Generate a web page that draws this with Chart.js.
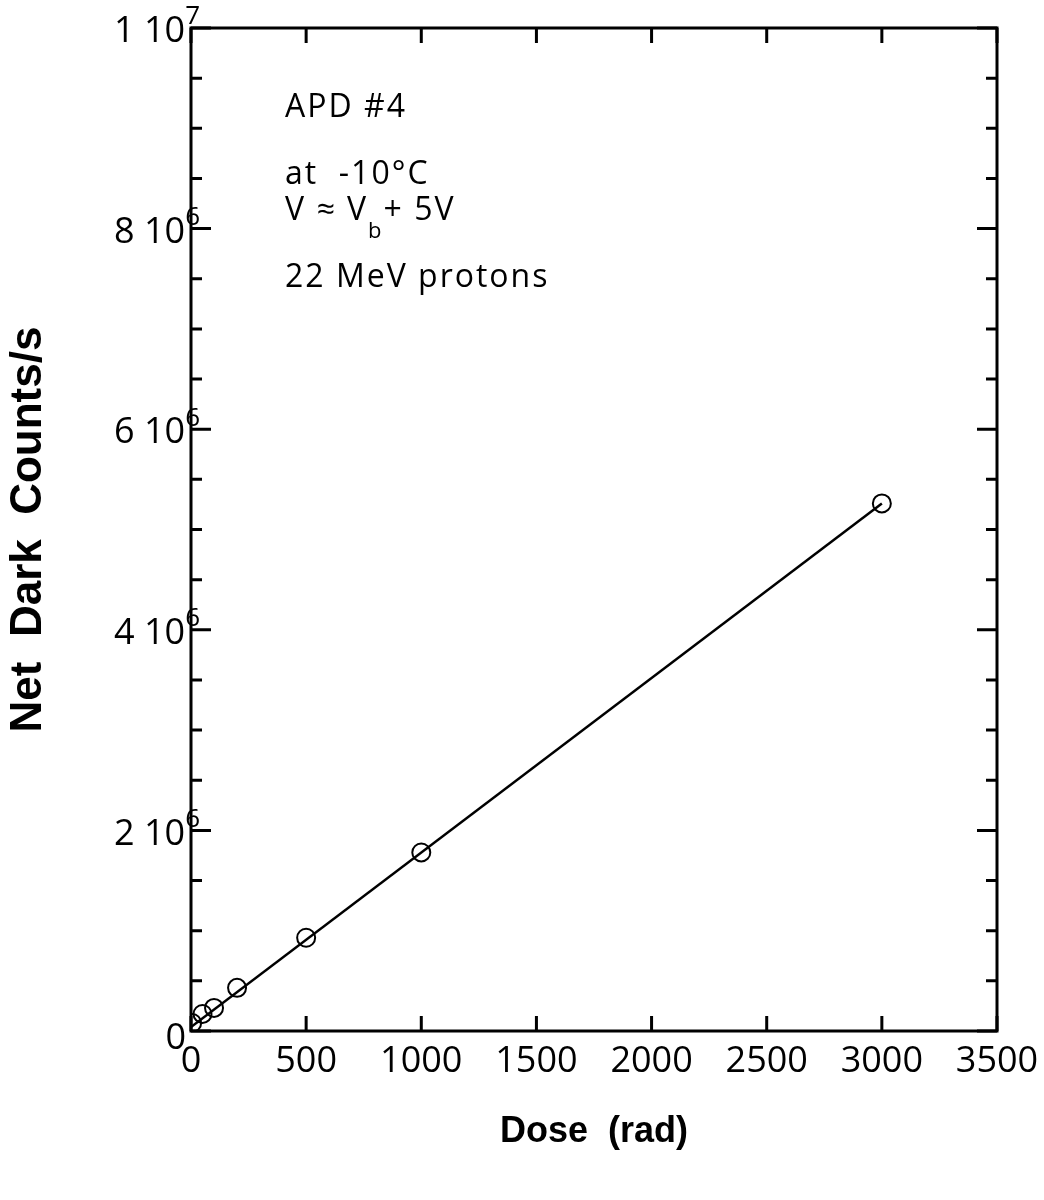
<!DOCTYPE html>
<html>
<head>
<meta charset="utf-8">
<script src="https://cdn.jsdelivr.net/npm/chart.js@4.4.1/dist/chart.umd.min.js"></script>
<style>
  body { margin: 0; background: #fff; }
  #wrap { width: 1044px; height: 1200px; position: relative; }
</style>
</head>
<body>
<div id="wrap"><canvas id="chart"></canvas></div>
<script>
// measured points
const doseRad = [5, 50, 100, 200, 500, 1000, 3000];
const darkCounts = [80000, 170000, 230000, 430000, 930000, 1780000, 5260000];
// straight fit line drawn through them
const fitDose = [0, 3000];
const fitCounts = [40000, 5260000];
// y tick labels (major ticks only), written as mantissa + power of ten
const yLabelValues = [0, 2000000, 4000000, 6000000, 8000000, 10000000];
const yLabelMant = ['0', '2 10', '4 10', '6 10', '8 10', '1 10'];
const yLabelExp = ['', '6', '6', '6', '6', '7'];
const xTickStep = 500;
const yMinorStep = 500000;
const yMajorStep = 2000000;

const tickFont = 'Open Sans';
const titleFont = 'Liberation Sans';

const points = doseRad.map((d, i) => ({ x: d, y: darkCounts[i] }));
const fitLine = fitDose.map((d, i) => ({ x: d, y: fitCounts[i] }));

// frame + inward ticks on all four sides
const frameTicks = {
    id: 'frameTicks',
    afterDatasetsDraw(chart) {
        const { ctx, chartArea: a, scales: { x, y } } = chart;
        ctx.save();
        ctx.strokeStyle = '#000';
        ctx.lineWidth = 3;
        ctx.strokeRect(a.left, a.top, a.right - a.left, a.bottom - a.top);
        ctx.beginPath();
        y.ticks.forEach(t => {
            const py = y.getPixelForValue(t.value);
            const len = (Math.round(t.value) % yMajorStep === 0) ? 20 : 11;
            ctx.moveTo(a.left, py); ctx.lineTo(a.left + len, py);
            ctx.moveTo(a.right, py); ctx.lineTo(a.right - len, py);
        });
        x.ticks.forEach(t => {
            const px = x.getPixelForValue(t.value);
            ctx.moveTo(px, a.bottom); ctx.lineTo(px, a.bottom - 15);
            ctx.moveTo(px, a.top); ctx.lineTo(px, a.top + 15);
        });
        ctx.stroke();
        ctx.restore();
    }
};

// y labels like "8 10^6" with a raised exponent
const yLabels = {
    id: 'yLabels',
    afterDraw(chart) {
        const { ctx, chartArea: a, scales: { y } } = chart;
        ctx.save();
        ctx.fillStyle = '#000';
        ctx.textBaseline = 'middle';
        ctx.textAlign = 'right';
        yLabelValues.forEach((v, i) => {
            const py = y.getPixelForValue(v);
            if (!yLabelExp[i]) {
                ctx.font = '36px "' + tickFont + '"';
                ctx.fillText(yLabelMant[i], a.left - 5, py + 8);
                return;
            }
            ctx.font = '26px "' + tickFont + '"';
            const ex = a.left + 9;
            ctx.fillText(yLabelExp[i], ex, py - 11);
            const ew = ctx.measureText(yLabelExp[i]).width;
            ctx.font = '36px "' + tickFont + '"';
            ctx.fillText(yLabelMant[i], ex - ew, py + 4);
        });
        ctx.restore();
    }
};

// text block inside the plot
const notes = {
    id: 'notes',
    afterDraw(chart) {
        const { ctx, chartArea: a } = chart;
        const x0 = a.left + 94;
        ctx.save();
        ctx.fillStyle = '#000';
        ctx.textBaseline = 'alphabetic';
        ctx.letterSpacing = '2px';
        ctx.font = '32px "Open Sans"';
        ctx.fillText('APD #4', x0, a.top + 89);
        ctx.fillText('at  -10\u00B0C', x0, a.top + 156);
        let t = 'V \u2248 V';
        ctx.fillText(t, x0, a.top + 192);
        let w = ctx.measureText(t).width;
        ctx.font = '22px "Open Sans"';
        ctx.fillText('b', x0 + w, a.top + 210);
        w += ctx.measureText('b').width;
        ctx.font = '32px "Open Sans"';
        ctx.fillText('+ 5V', x0 + w, a.top + 192);
        ctx.fillText('22 MeV protons', x0, a.top + 259);
        ctx.restore();
    }
};

new Chart(document.getElementById('chart'), {
    type: 'scatter',
    data: {
        datasets: [
            {
                data: fitLine,
                showLine: true,
                borderColor: '#000',
                borderWidth: 2.5,
                pointRadius: 0,
                fill: false
            },
            {
                data: points,
                showLine: false,
                pointStyle: 'circle',
                pointRadius: 9,
                pointBorderWidth: 2,
                pointBorderColor: '#000',
                pointBackgroundColor: 'rgba(0,0,0,0)'
            }
        ]
    },
    options: {
        responsive: true,
        maintainAspectRatio: false,
        animation: false,
        layout: { padding: { top: 28, right: 47, left: 0, bottom: 0 } },
        plugins: { legend: { display: false }, tooltip: { enabled: false } },
        scales: {
            x: {
                type: 'linear',
                min: 0,
                max: 3500,
                grid: { display: false, drawTicks: false },
                border: { display: false },
                ticks: {
                    stepSize: xTickStep,
                    autoSkip: false,
                    maxRotation: 0,
                    padding: 9,
                    color: '#000',
                    font: { family: tickFont, size: 36 },
                    callback: v => String(v)
                },
                title: {
                    display: true,
                    text: 'Dose  (rad)',
                    color: '#000',
                    font: { family: titleFont, size: 36, weight: 'bold' },
                    padding: { top: 0, bottom: 46 }
                },
                afterFit(scale) {
                    scale.height = 169;
                    scale.paddingLeft = 0;
                    scale.paddingRight = 0;
                }
            },
            y: {
                type: 'linear',
                min: 0,
                max: 10000000,
                grid: { display: false, drawTicks: false },
                border: { display: false },
                ticks: {
                    display: false,
                    stepSize: yMinorStep,
                    autoSkip: false
                },
                title: {
                    display: true,
                    text: 'Net  Dark  Counts/s',
                    color: '#000',
                    font: { family: titleFont, size: 44, weight: 'bold' },
                    padding: { top: 2, bottom: 0 }
                },
                afterFit(scale) {
                    scale.width = 191;
                    scale.paddingTop = 0;
                    scale.paddingBottom = 0;
                }
            }
        }
    },
    plugins: [frameTicks, yLabels, notes]
});
</script>
</body>
</html>
